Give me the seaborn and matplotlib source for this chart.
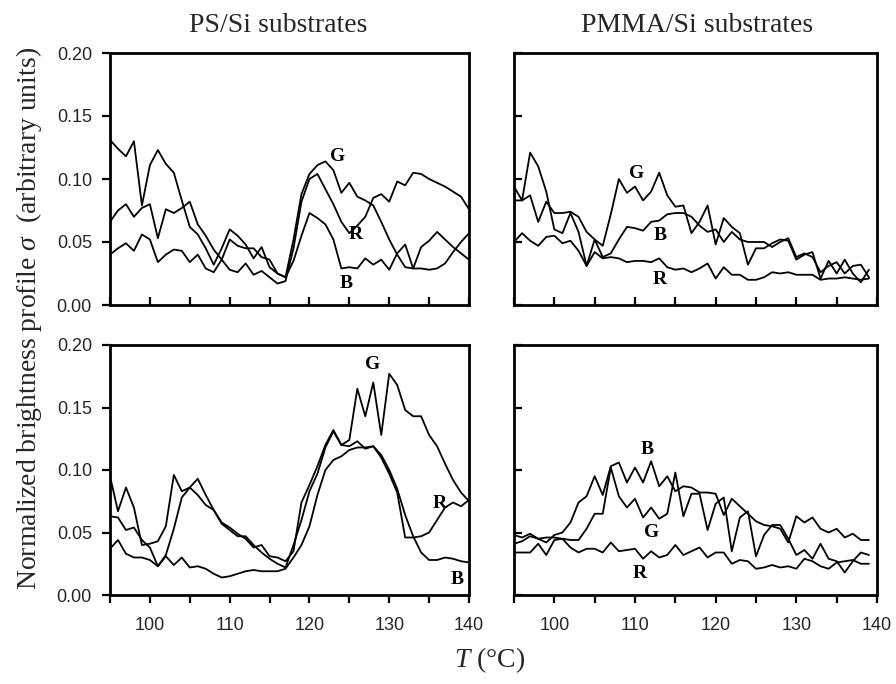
import matplotlib
matplotlib.use("Agg")
import matplotlib.pyplot as plt
import seaborn as sns

# ---------------- data ----------------
temps_ps = list(range(95, 141))     # PS/Si panels, deg C
temps_pmma = list(range(95, 140))   # PMMA/Si panels, deg C

# top-left: PS/Si (upper row)
ps_top_G = [0.131, 0.124, 0.118, 0.130, 0.079, 0.111, 0.123, 0.112, 0.105, 0.083,
            0.062, 0.056, 0.045, 0.032, 0.045, 0.060, 0.055, 0.048, 0.037, 0.046,
            0.030, 0.025, 0.022, 0.052, 0.088, 0.104, 0.111, 0.114, 0.107, 0.089,
            0.097, 0.086, 0.083, 0.079, 0.066, 0.052, 0.040, 0.030, 0.029, 0.029,
            0.028, 0.029, 0.033, 0.042, 0.050, 0.057]
ps_top_R = [0.066, 0.075, 0.080, 0.070, 0.077, 0.080, 0.053, 0.076, 0.073, 0.077,
            0.082, 0.064, 0.055, 0.044, 0.036, 0.028, 0.026, 0.033, 0.024, 0.027,
            0.022, 0.017, 0.019, 0.045, 0.082, 0.100, 0.104, 0.092, 0.080, 0.066,
            0.057, 0.063, 0.070, 0.085, 0.088, 0.082, 0.098, 0.095, 0.105, 0.104,
            0.100, 0.097, 0.094, 0.090, 0.086, 0.076]
ps_top_B = [0.040, 0.045, 0.049, 0.043, 0.056, 0.052, 0.034, 0.040, 0.044, 0.043,
            0.034, 0.040, 0.029, 0.026, 0.036, 0.052, 0.047, 0.045, 0.045, 0.038,
            0.036, 0.025, 0.022, 0.035, 0.055, 0.073, 0.069, 0.064, 0.052, 0.029,
            0.030, 0.029, 0.037, 0.032, 0.036, 0.028, 0.041, 0.048, 0.029, 0.046,
            0.051, 0.058, 0.052, 0.046, 0.041, 0.036]

# top-right: PMMA/Si (upper row)
pmma_top_G = [0.094, 0.083, 0.121, 0.110, 0.090, 0.060, 0.057, 0.073, 0.058, 0.031,
              0.052, 0.047, 0.072, 0.100, 0.089, 0.094, 0.083, 0.090, 0.105, 0.087,
              0.078, 0.079, 0.057, 0.066, 0.079, 0.048, 0.069, 0.062, 0.057, 0.032,
              0.045, 0.045, 0.049, 0.052, 0.051, 0.036, 0.040, 0.042, 0.021, 0.035,
              0.025, 0.036, 0.025, 0.018, 0.028]
pmma_top_B = [0.083, 0.083, 0.087, 0.066, 0.082, 0.073, 0.073, 0.074, 0.070, 0.058,
              0.052, 0.038, 0.041, 0.052, 0.062, 0.061, 0.059, 0.066, 0.067, 0.072,
              0.073, 0.073, 0.070, 0.063, 0.058, 0.060, 0.050, 0.058, 0.052, 0.050,
              0.050, 0.050, 0.046, 0.050, 0.053, 0.038, 0.041, 0.038, 0.026, 0.031,
              0.034, 0.025, 0.031, 0.032, 0.022]
pmma_top_R = [0.050, 0.057, 0.051, 0.047, 0.054, 0.055, 0.049, 0.051, 0.043, 0.031,
              0.042, 0.037, 0.038, 0.037, 0.034, 0.035, 0.035, 0.034, 0.037, 0.030,
              0.028, 0.029, 0.026, 0.029, 0.033, 0.021, 0.030, 0.024, 0.024, 0.020,
              0.020, 0.022, 0.026, 0.025, 0.026, 0.024, 0.024, 0.024, 0.020, 0.021,
              0.021, 0.022, 0.021, 0.020, 0.021]

# bottom-left: PS/Si (lower row)
ps_bot_G = [0.095, 0.067, 0.086, 0.070, 0.040, 0.041, 0.043, 0.055, 0.096, 0.083,
            0.086, 0.080, 0.072, 0.068, 0.058, 0.054, 0.049, 0.045, 0.038, 0.040,
            0.031, 0.030, 0.027, 0.035, 0.074, 0.088, 0.103, 0.120, 0.132, 0.120,
            0.124, 0.165, 0.143, 0.170, 0.128, 0.177, 0.168, 0.148, 0.143, 0.143,
            0.128, 0.119, 0.105, 0.092, 0.082, 0.075]
ps_bot_R = [0.063, 0.062, 0.052, 0.054, 0.044, 0.038, 0.023, 0.032, 0.053, 0.078,
            0.086, 0.093, 0.080, 0.068, 0.057, 0.052, 0.047, 0.047, 0.040, 0.034,
            0.029, 0.025, 0.022, 0.040, 0.060, 0.083, 0.097, 0.118, 0.131, 0.120,
            0.119, 0.123, 0.117, 0.119, 0.110, 0.097, 0.082, 0.046, 0.046, 0.047,
            0.050, 0.060, 0.070, 0.074, 0.071, 0.076]
ps_bot_B = [0.037, 0.044, 0.033, 0.030, 0.030, 0.028, 0.023, 0.031, 0.024, 0.030,
            0.022, 0.023, 0.021, 0.017, 0.014, 0.015, 0.017, 0.019, 0.020, 0.019,
            0.019, 0.019, 0.021, 0.030, 0.040, 0.055, 0.080, 0.100, 0.108, 0.111,
            0.116, 0.118, 0.118, 0.119, 0.112, 0.100, 0.085, 0.064, 0.047, 0.034,
            0.028, 0.028, 0.030, 0.029, 0.027, 0.026]

# bottom-right: PMMA/Si (lower row)
pmma_bot_B = [0.048, 0.046, 0.049, 0.045, 0.042, 0.048, 0.050, 0.058, 0.074, 0.079,
              0.095, 0.080, 0.103, 0.106, 0.090, 0.102, 0.090, 0.107, 0.087, 0.095,
              0.083, 0.087, 0.086, 0.082, 0.082, 0.081, 0.064, 0.077, 0.071, 0.065,
              0.059, 0.056, 0.055, 0.053, 0.042, 0.063, 0.058, 0.062, 0.053, 0.050,
              0.053, 0.046, 0.049, 0.044, 0.044]
pmma_bot_G = [0.041, 0.043, 0.047, 0.045, 0.046, 0.046, 0.045, 0.044, 0.044, 0.053,
              0.065, 0.065, 0.102, 0.079, 0.070, 0.077, 0.062, 0.070, 0.061, 0.065,
              0.098, 0.063, 0.081, 0.081, 0.052, 0.073, 0.078, 0.035, 0.062, 0.067,
              0.031, 0.048, 0.056, 0.056, 0.045, 0.032, 0.036, 0.029, 0.041, 0.029,
              0.027, 0.018, 0.027, 0.034, 0.032]
pmma_bot_R = [0.034, 0.034, 0.034, 0.041, 0.032, 0.044, 0.045, 0.038, 0.034, 0.037,
              0.037, 0.034, 0.042, 0.035, 0.036, 0.037, 0.029, 0.035, 0.030, 0.032,
              0.040, 0.032, 0.035, 0.038, 0.030, 0.034, 0.034, 0.025, 0.028, 0.027,
              0.021, 0.022, 0.024, 0.022, 0.023, 0.021, 0.029, 0.027, 0.023, 0.021,
              0.026, 0.027, 0.028, 0.025, 0.025]

# curve labels: (letter, T, sigma)
labels_ps_top = [("G", 123.5, 0.118), ("R", 125.8, 0.056), ("B", 124.6, 0.017)]
labels_pmma_top = [("G", 110.2, 0.1045), ("B", 113.1, 0.0555), ("R", 113.1, 0.020)]
labels_ps_bot = [("G", 127.9, 0.184), ("R", 136.3, 0.073), ("B", 138.5, 0.012)]
labels_pmma_bot = [("B", 111.5, 0.116), ("G", 112.1, 0.050), ("R", 110.6, 0.017)]

titles = ["PS/Si substrates", "PMMA/Si substrates"]
x_major = [100, 110, 120, 130, 140]
x_minor = [95, 105, 115, 125, 135]
y_major = [0.00, 0.05, 0.10, 0.15, 0.20]

# ---------------- style ----------------
sns.set_theme(style="white")
plt.rcParams.update({
    "font.family": ["Liberation Sans", "DejaVu Sans"],
    "mathtext.fontset": "custom",
    "mathtext.rm": "Liberation Serif",
    "mathtext.it": "Liberation Serif:italic",
    "axes.edgecolor": "black",
    "axes.linewidth": 2.0,
})
SERIF = ["Liberation Serif", "DejaVu Serif"]

W, H = 896, 684
fig = plt.figure(figsize=(W / 100, H / 100), dpi=100)


def axes_px(x0, y0, x1, y1):
    return fig.add_axes([x0 / W, 1 - y1 / H, (x1 - x0) / W, (y1 - y0) / H])


ax_tl = axes_px(110, 53, 469, 305)
ax_tr = axes_px(514, 53, 877, 305)
ax_bl = axes_px(110, 345, 469, 595)
ax_br = axes_px(514, 345, 877, 595)

panels = [
    (ax_tl, temps_ps, [ps_top_G, ps_top_R, ps_top_B], labels_ps_top, True, True),
    (ax_tr, temps_pmma, [pmma_top_G, pmma_top_B, pmma_top_R], labels_pmma_top, True, False),
    (ax_bl, temps_ps, [ps_bot_G, ps_bot_R, ps_bot_B], labels_ps_bot, False, True),
    (ax_br, temps_pmma, [pmma_bot_B, pmma_bot_G, pmma_bot_R], labels_pmma_bot, False, False),
]

for ax, temps, series, labs, top_row, left_col in panels:
    for vals in series:
        sns.lineplot(x=temps, y=vals, ax=ax, color="black", linewidth=1.3,
                     estimator=None, sort=False)
    for letter, tx, ty in labs:
        ax.text(tx, ty, letter, ha="center", va="center", fontsize=14,
                fontweight="bold", family=SERIF, color="black")
    ax.set_xlim(95, 140)
    ax.set_ylim(0, 0.20)
    ax.set_xticks(x_major)
    ax.set_xticks(x_minor, minor=True)
    ax.set_yticks(y_major)
    for s in ax.spines.values():
        s.set_visible(True)
        s.set_linewidth(2.0)
        s.set_color("black")
    xdir = "in" if top_row else "out"
    ydir = "out" if left_col else "in"
    ax.tick_params(axis="x", which="both", direction=xdir, length=6, width=1.6,
                   bottom=True, top=False, color="black", pad=9.5,
                   labelsize=13, labelbottom=not top_row)
    ax.tick_params(axis="y", which="both", direction=ydir, length=6, width=1.6,
                   left=True, right=False, color="black", pad=7,
                   labelsize=13, labelleft=left_col)
    if left_col:
        ax.set_yticklabels([f"{v:.2f}" for v in y_major])
    ax.set_xlabel("")
    ax.set_ylabel("")
    ax.grid(False)

fig.text(278 / W, 1 - 26 / H, titles[0], ha="center", va="center",
         fontsize=20, family=SERIF)
fig.text(697 / W, 1 - 26 / H, titles[1], ha="center", va="center",
         fontsize=20, family=SERIF)
fig.text(29 / W, 1 - 318 / H,
         r"Normalized brightness profile $\mathit{\sigma}$  (arbitrary units)",
         rotation=90, ha="center", va="center", fontsize=20, family=SERIF)
fig.text(490 / W, 1 - 660 / H, r"$\mathit{T}$ (°C)", ha="center", va="center",
         fontsize=20, family=SERIF)

fig.savefig("out.png", dpi=100)
